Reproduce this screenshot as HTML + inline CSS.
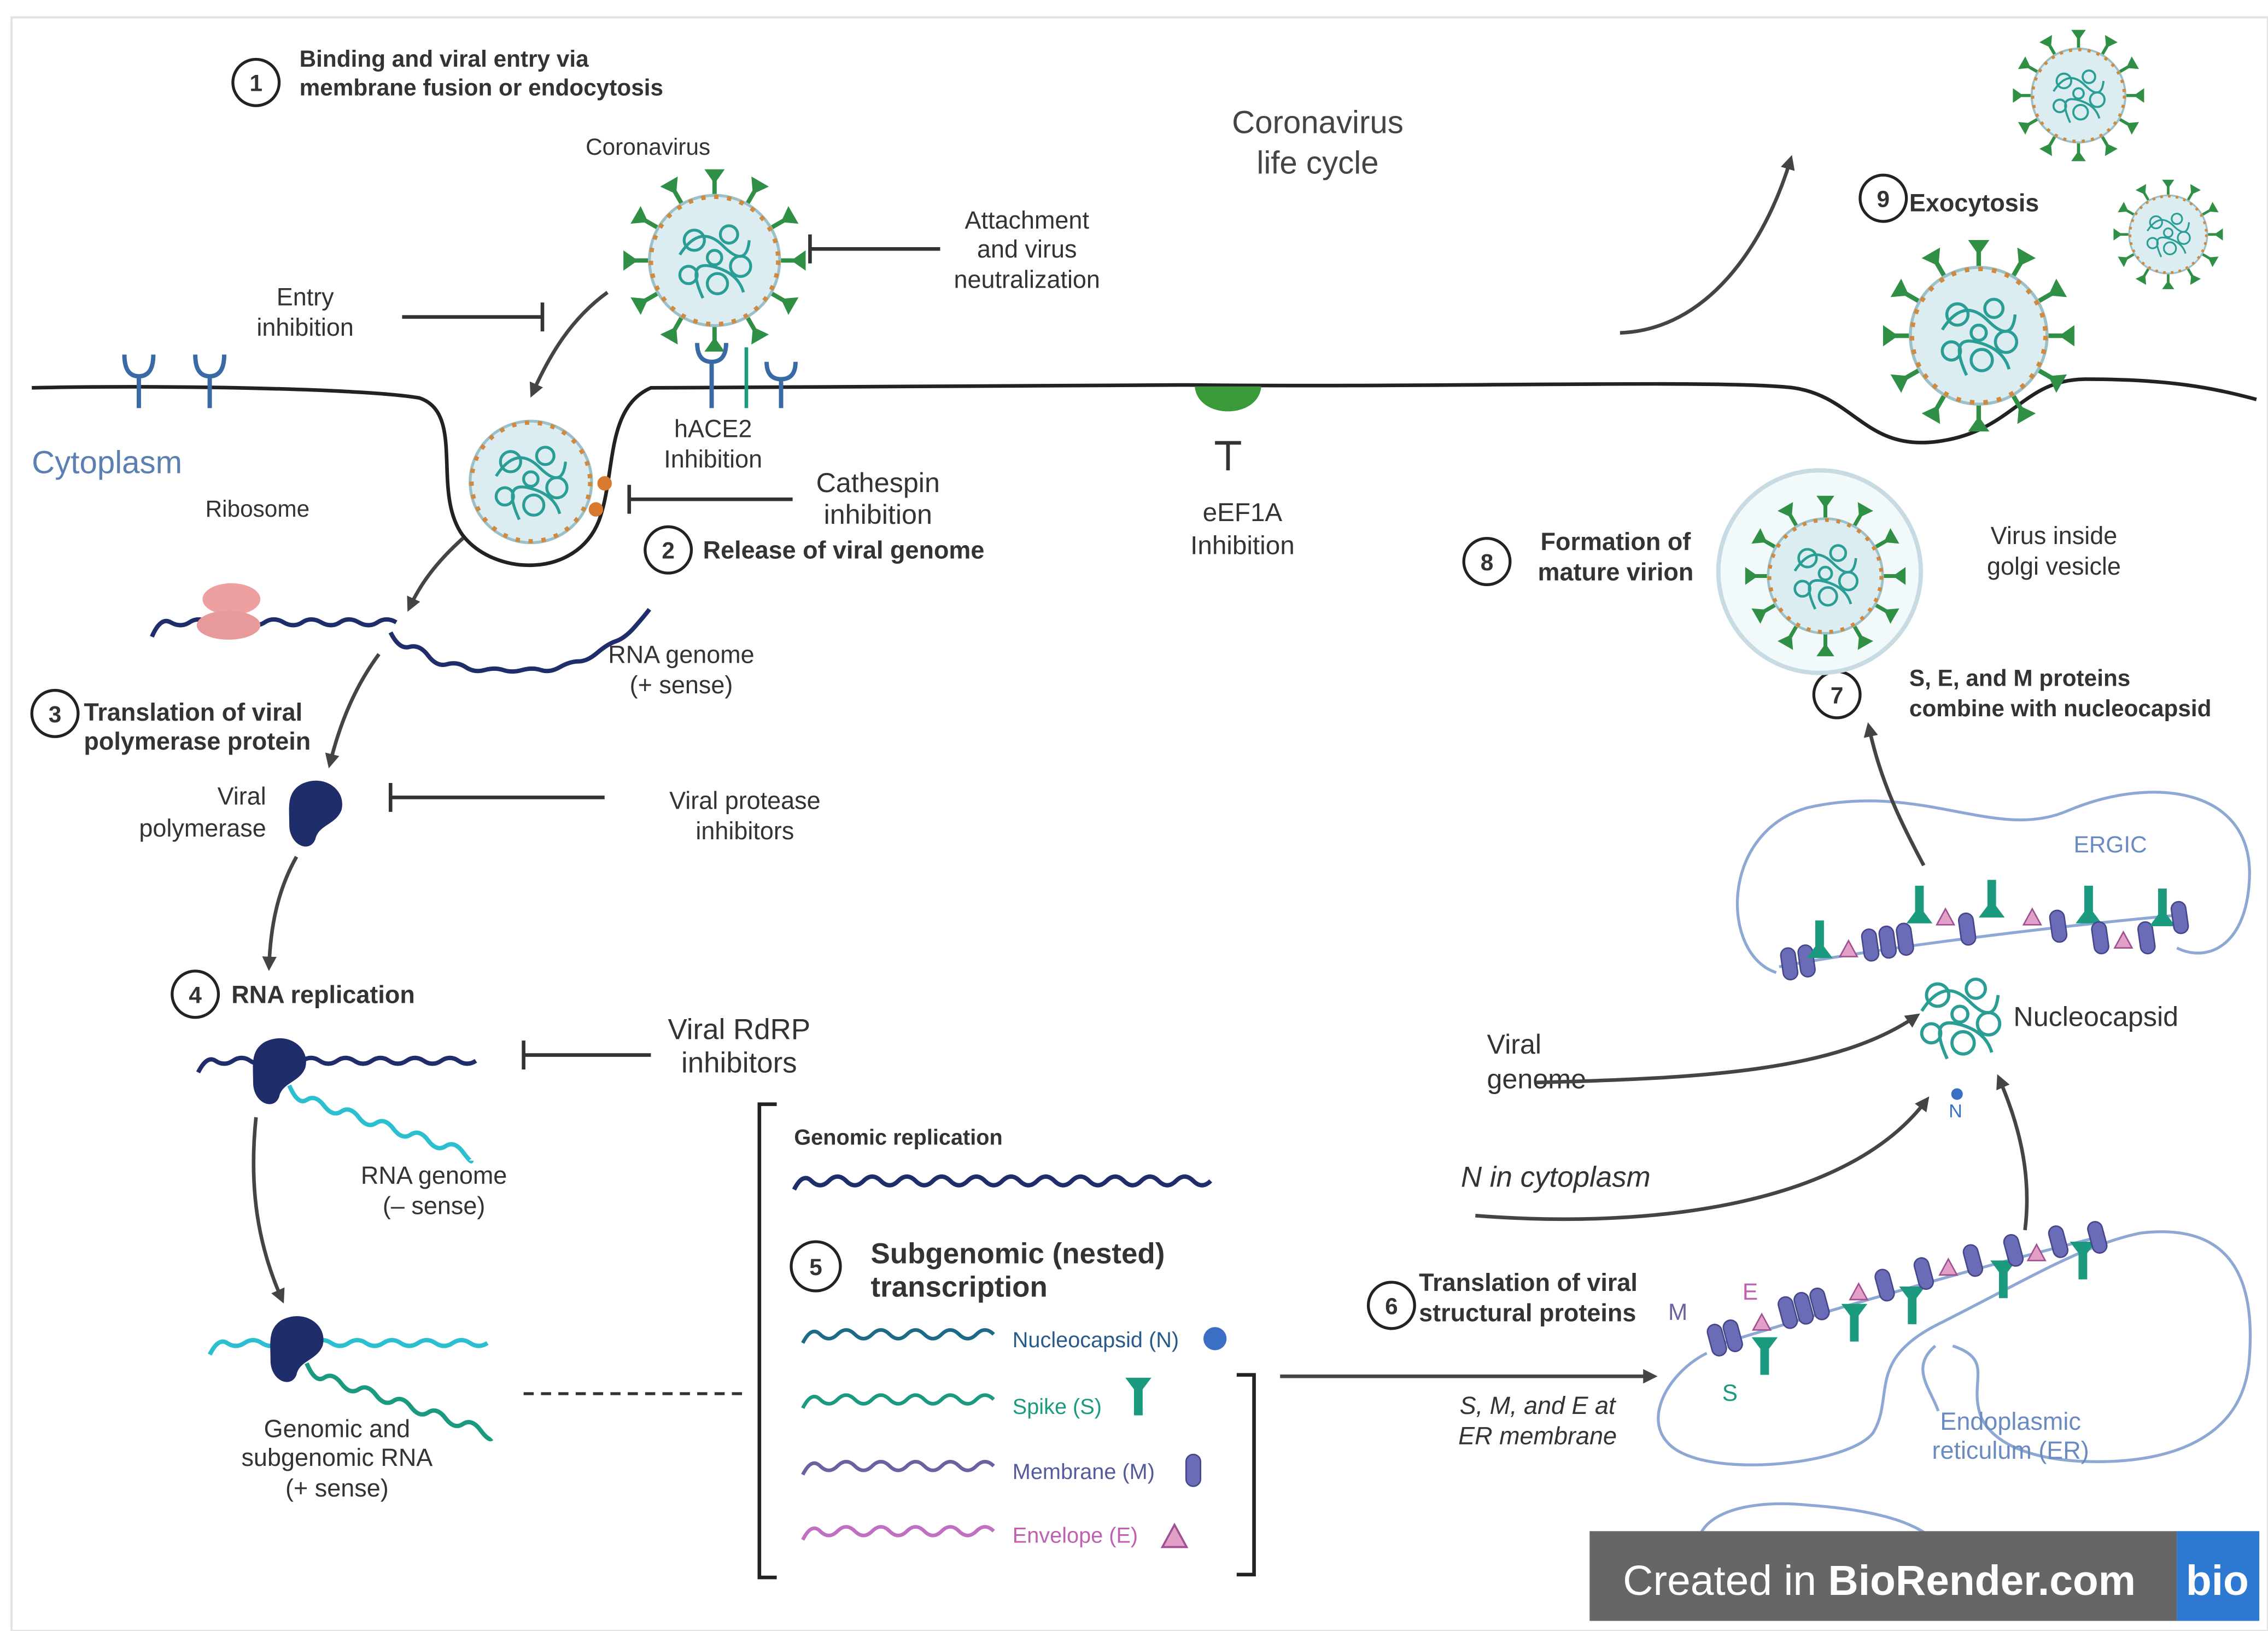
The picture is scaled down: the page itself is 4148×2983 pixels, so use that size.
<!DOCTYPE html>
<html><head><meta charset="utf-8"><style>
html,body{margin:0;padding:0;background:#fff;}
svg{display:block;}
text{font-family:"Liberation Sans",sans-serif;}
text:not([fill]){fill:#333;}
.b{font-weight:bold;fill:#222;}
</style></head><body>
<svg width="4148" height="2983" viewBox="0 0 1568 1127" preserveAspectRatio="none" xmlns="http://www.w3.org/2000/svg">
<defs>
<marker id="ar" markerWidth="10" markerHeight="10" refX="7" refY="5" orient="auto" markerUnits="userSpaceOnUse"><path d="M0,0 L10,5 L0,10 Z" fill="#444"/></marker>
<g id="sp"><path d="M0,-44 L0,-56" stroke="#2f8f45" stroke-width="3"/><path d="M-7,-63 L7,-63 L0,-53 Z" fill="#2f8f45"/></g>
<g id="scr" fill="none" stroke="#2a9d95" stroke-width="2">
<circle cx="-14" cy="-14" r="7"/><circle cx="10" cy="-18" r="6"/><circle cx="18" cy="4" r="7"/><circle cx="-18" cy="10" r="6"/><circle cx="2" cy="16" r="7"/><circle cx="0" cy="-2" r="5"/>
<path d="M-24,-4 Q-10,-26 6,-10 T24,-14 M-8,26 Q-20,0 -2,4 T20,22"/>
</g>
<g id="vir">
<use href="#sp"/><use href="#sp" transform="rotate(30)"/><use href="#sp" transform="rotate(60)"/><use href="#sp" transform="rotate(90)"/><use href="#sp" transform="rotate(120)"/><use href="#sp" transform="rotate(150)"/><use href="#sp" transform="rotate(180)"/><use href="#sp" transform="rotate(210)"/><use href="#sp" transform="rotate(240)"/><use href="#sp" transform="rotate(270)"/><use href="#sp" transform="rotate(300)"/><use href="#sp" transform="rotate(330)"/>
<circle r="45" fill="#dcedf2" stroke="#9cc0c8" stroke-width="2"/>
<circle r="44" fill="none" stroke="#d08a40" stroke-width="3" stroke-dasharray="3 6"/>
<use href="#scr"/>
</g>
<g id="cap"><rect x="-5" y="-11" width="10" height="22" rx="5" fill="#6a6cb8" stroke="#45478a"/></g>
<g id="spk"><path d="M-9,-14 L9,-14 L3,-6 L3,12 L-3,12 L-3,-6 Z" fill="#1b9a80"/></g>
<g id="tri"><path d="M-6,5 L6,5 L0,-6 Z" fill="#e2a0c8" stroke="#a05090"/></g>
<g id="pol"><path d="M-10,-18 C6,-26 22,-14 18,0 C14,10 2,10 0,20 C-4,30 -18,24 -18,10 C-18,-2 -20,-12 -10,-18 Z" fill="#1f2d6a"/></g>
</defs>

<rect x="8" y="12" width="1560" height="1115" fill="#fff" stroke="#e2e2e2" stroke-width="1.5"/>

<path d="M22,268 C100,266 250,268 290,275 C322,286 298,340 320,370 C342,398 398,400 414,360 C426,328 418,282 450,268 L820,266 C1000,268 1190,262 1240,268 C1282,274 1290,312 1340,305 C1392,298 1398,262 1442,262 C1500,262 1530,268 1560,276" fill="none" stroke="#222" stroke-width="2.5"/>

<circle cx="177" cy="57" r="16" fill="#fff" stroke="#222" stroke-width="2"/><text x="177" y="63" font-size="16" text-anchor="middle" class="b">1</text>
<text x="207" y="46" font-size="16" class="b">Binding and viral entry via</text>
<text x="207" y="66" font-size="16" class="b">membrane fusion or endocytosis</text>
<text x="448" y="107" font-size="16" text-anchor="middle">Coronavirus</text>
<text x="911" y="92" font-size="22" text-anchor="middle" fill="#444">Coronavirus</text>
<text x="911" y="120" font-size="22" text-anchor="middle" fill="#444">life cycle</text>
<use href="#vir" transform="translate(494,180)"/>
<text x="710" y="158" font-size="17" text-anchor="middle">Attachment</text>
<text x="710" y="178" font-size="17" text-anchor="middle">and virus</text>
<text x="710" y="199" font-size="17" text-anchor="middle">neutralization</text>
<path d="M650,172 L560,172 M560,162 L560,182" stroke="#333" stroke-width="2.5"/>
<text x="211" y="211" font-size="17" text-anchor="middle">Entry</text>
<text x="211" y="232" font-size="17" text-anchor="middle">inhibition</text>
<path d="M278,219 L375,219 M375,209 L375,229" stroke="#333" stroke-width="2.5"/>
<path d="M420,202 C395,220 380,245 368,272" fill="none" stroke="#444" stroke-width="2.5" marker-end="url(#ar)"/>

<g stroke="#3a6aa6" stroke-width="3" fill="none">
<path d="M96,282 L96,260 M86,245 Q86,260 96,260 Q106,260 106,245"/>
<path d="M145,282 L145,260 M135,245 Q135,260 145,260 Q155,260 155,245"/>
<path d="M492,282 L492,250 M482,237 Q482,250 492,250 Q502,250 502,237"/>
<path d="M540,282 L540,262 M530,250 Q530,262 540,262 Q550,262 550,250"/>
</g>
<path d="M516,282 L516,240" stroke="#1b9a80" stroke-width="2.5"/>
<text x="493" y="302" font-size="17" text-anchor="middle">hACE2</text>
<text x="493" y="323" font-size="17" text-anchor="middle">Inhibition</text>
<text x="22" y="327" font-size="22" fill="#5a7fb0">Cytoplasm</text>

<circle cx="367" cy="333" r="42" fill="#dcedf2" stroke="#9cc0c8" stroke-width="2"/>
<circle cx="367" cy="333" r="41" fill="none" stroke="#d08a40" stroke-width="3" stroke-dasharray="3 6"/>
<use href="#scr" transform="translate(367,333)"/>
<circle cx="418" cy="334" r="5" fill="#d87a30"/><circle cx="412" cy="352" r="5" fill="#d87a30"/>
<text x="607" y="340" font-size="19" text-anchor="middle">Cathespin</text>
<text x="607" y="362" font-size="19" text-anchor="middle">inhibition</text>
<path d="M548,345 L435,345 M435,335 L435,355" stroke="#333" stroke-width="2.5"/>
<circle cx="462" cy="380" r="16" fill="#fff" stroke="#222" stroke-width="2"/><text x="462" y="386" font-size="16" text-anchor="middle" class="b">2</text>
<text x="486" y="386" font-size="17" class="b">Release of viral genome</text>

<path d="M826,267 C828,290 870,290 872,267 Z" fill="#3a9a3a"/>
<path d="M849,325 L849,306 M840,306 L858,306" stroke="#333" stroke-width="2.5"/>
<text x="859" y="360" font-size="18" text-anchor="middle">eEF1A</text>
<text x="859" y="383" font-size="18" text-anchor="middle">Inhibition</text>

<text x="178" y="357" font-size="16" text-anchor="middle">Ribosome</text>
<path d="M320,372 C300,390 290,405 283,420" fill="none" stroke="#444" stroke-width="2.5" marker-end="url(#ar)"/>
<path d="M105,440 q6,-14 13,-10 t13,0 t13,0 t13,0 t13,0 t13,0 t13,0 t13,0 t13,0 t13,0 t13,0 t13,0 t13,0" fill="none" stroke="#1f2d6a" stroke-width="3"/>
<path d="M270,437 q6,12 13,10 t13,6 t13,6 t13,2 t13,2 t13,0 t13,0 t13,0 t13,-2 t13,-4 t13,-6 t13,-8 t13,-10 t10,-12" fill="none" stroke="#1f2d6a" stroke-width="3"/>
<ellipse cx="160" cy="414" rx="20" ry="11" fill="#eea0a0"/><ellipse cx="158" cy="432" rx="22" ry="10" fill="#e89a9a"/>
<text x="471" y="458" font-size="17" text-anchor="middle">RNA genome</text>
<text x="471" y="479" font-size="17" text-anchor="middle">(+ sense)</text>

<circle cx="38" cy="493" r="16" fill="#fff" stroke="#222" stroke-width="2"/><text x="38" y="499" font-size="16" text-anchor="middle" class="b">3</text>
<text x="58" y="498" font-size="17" class="b">Translation of viral</text>
<text x="58" y="518" font-size="17" class="b">polymerase protein</text>
<path d="M262,452 C245,475 235,500 228,528" fill="none" stroke="#444" stroke-width="2.5" marker-end="url(#ar)"/>
<use href="#pol" transform="translate(218,560)"/>
<text x="184" y="556" font-size="17" text-anchor="end">Viral</text>
<text x="184" y="578" font-size="17" text-anchor="end">polymerase</text>
<path d="M418,551 L270,551 M270,541 L270,561" stroke="#333" stroke-width="2.5"/>
<text x="515" y="559" font-size="17" text-anchor="middle">Viral protease</text>
<text x="515" y="580" font-size="17" text-anchor="middle">inhibitors</text>
<path d="M205,592 C192,615 187,640 186,668" fill="none" stroke="#444" stroke-width="2.5" marker-end="url(#ar)"/>

<circle cx="135" cy="687" r="16" fill="#fff" stroke="#222" stroke-width="2"/><text x="135" y="693" font-size="16" text-anchor="middle" class="b">4</text>
<text x="160" y="693" font-size="17" class="b">RNA replication</text>
<path d="M137,741 q6,-12 12,-8 t12,0 t12,0 t12,0 t12,0 t12,0 t12,0 t12,0 t12,0 t12,0 t12,0 t12,0 t12,0 t12,0 t12,0 t12,0" fill="none" stroke="#1f2d6a" stroke-width="3"/>
<path d="M200,750 q6,14 12,10 t12,4 t12,4 t12,4 t12,4 t12,4 t12,4 t12,4 t12,4 t12,4 t6,6" fill="none" stroke="#2cbfd0" stroke-width="3"/>
<use href="#pol" transform="translate(193,738)"/>
<path d="M450,729 L362,729 M362,719 L362,739" stroke="#333" stroke-width="2.5"/>
<text x="511" y="718" font-size="20" text-anchor="middle">Viral RdRP</text>
<text x="511" y="741" font-size="20" text-anchor="middle">inhibitors</text>
<text x="300" y="818" font-size="17" text-anchor="middle">RNA genome</text>
<text x="300" y="839" font-size="17" text-anchor="middle">(– sense)</text>
<path d="M177,772 C172,820 178,860 195,898" fill="none" stroke="#444" stroke-width="2.5" marker-end="url(#ar)"/>
<path d="M145,936 q6,-12 12,-8 t12,0 t12,0 t12,0 t12,0 t12,0 t12,0 t12,0 t12,0 t12,0 t12,0 t12,0 t12,0 t12,0 t12,0 t12,0" fill="none" stroke="#2cbfd0" stroke-width="3"/>
<path d="M212,942 q6,14 12,10 t12,4 t12,4 t12,4 t12,4 t12,4 t12,4 t12,4 t12,4 t12,4 t8,6" fill="none" stroke="#1b9a80" stroke-width="3"/>
<use href="#pol" transform="translate(205,930)"/>
<text x="233" y="993" font-size="17" text-anchor="middle">Genomic and</text>
<text x="233" y="1013" font-size="17" text-anchor="middle">subgenomic RNA</text>
<text x="233" y="1034" font-size="17" text-anchor="middle">(+ sense)</text>
<path d="M362,963 L518,963" stroke="#333" stroke-width="2" stroke-dasharray="7 5"/>

<path d="M537,763 L525,763 L525,1090 L537,1090" fill="none" stroke="#222" stroke-width="2.5"/>
<path d="M855,950 L867,950 L867,1088 L855,1088" fill="none" stroke="#222" stroke-width="2.5"/>
<text x="549" y="791" font-size="15" class="b">Genomic replication</text>
<path d="M549,822 q6,-12 12,-6 t12,0 t12,0 t12,0 t12,0 t12,0 t12,0 t12,0 t12,0 t12,0 t12,0 t12,0 t12,0 t12,0 t12,0 t12,0 t12,0 t12,0 t12,0 t12,0 t12,0 t12,0 t12,0 t12,0" fill="none" stroke="#1f2d6a" stroke-width="3"/>
<circle cx="564" cy="875" r="17" fill="#fff" stroke="#222" stroke-width="2"/><text x="564" y="881" font-size="16" text-anchor="middle" class="b">5</text>
<text x="602" y="873" font-size="20" class="b">Subgenomic (nested)</text>
<text x="602" y="896" font-size="20" class="b">transcription</text>
<path d="M555,928 q6,-12 12,-6 t12,0 t12,0 t12,0 t12,0 t12,0 t12,0 t12,0 t12,0 t12,0 t12,0" fill="none" stroke="#1d6a86" stroke-width="2.5"/>
<text x="700" y="931" font-size="15" fill="#2a5a8a">Nucleocapsid (N)</text>
<circle cx="840" cy="925" r="8" fill="#3b6fc4"/>
<path d="M555,973 q6,-12 12,-6 t12,0 t12,0 t12,0 t12,0 t12,0 t12,0 t12,0 t12,0 t12,0 t12,0" fill="none" stroke="#1b9a80" stroke-width="2.5"/>
<text x="700" y="977" font-size="15" fill="#1b9a80">Spike (S)</text>
<use href="#spk" transform="translate(787,966)"/>
<path d="M555,1019 q6,-12 12,-6 t12,0 t12,0 t12,0 t12,0 t12,0 t12,0 t12,0 t12,0 t12,0 t12,0" fill="none" stroke="#6a62a0" stroke-width="2.5"/>
<text x="700" y="1022" font-size="15" fill="#555a9a">Membrane (M)</text>
<use href="#cap" transform="translate(825,1016)"/>
<path d="M555,1064 q6,-12 12,-6 t12,0 t12,0 t12,0 t12,0 t12,0 t12,0 t12,0 t12,0 t12,0 t12,0" fill="none" stroke="#c070c0" stroke-width="2.5"/>
<text x="700" y="1066" font-size="15" fill="#c060b0">Envelope (E)</text>
<use href="#tri" transform="translate(812,1062) scale(1.4)"/>
<path d="M885,951 L1143,951" stroke="#444" stroke-width="2.5" marker-end="url(#ar)"/>

<circle cx="962" cy="902" r="16" fill="#fff" stroke="#222" stroke-width="2"/><text x="962" y="908" font-size="16" text-anchor="middle" class="b">6</text>
<text x="981" y="892" font-size="17" class="b">Translation of viral</text>
<text x="981" y="913" font-size="17" class="b">structural proteins</text>
<text x="1063" y="977" font-size="17" text-anchor="middle" font-style="italic">S, M, and E at</text>
<text x="1063" y="998" font-size="17" text-anchor="middle" font-style="italic">ER membrane</text>
<g fill="none" stroke="#8ea8d4" stroke-width="2">
<path d="M1180,935 C1150,950 1130,990 1165,1005 C1200,1020 1280,1010 1295,990 C1310,965 1290,940 1340,915 C1400,885 1440,860 1480,852 C1540,845 1560,880 1555,940 C1550,1000 1490,1010 1450,1010 C1410,1010 1380,1000 1370,980 C1360,955 1380,940 1350,930"/>
<path d="M1185,930 C1250,910 1350,880 1450,855"/>
<path d="M1178,1085 C1160,1050 1200,1035 1250,1040 C1320,1045 1330,1060 1340,1065"/>
<path d="M1338,930 C1320,945 1335,960 1340,975"/>
</g>
<g>
<use href="#cap" transform="translate(1187,926) rotate(-15)"/><use href="#cap" transform="translate(1198,923) rotate(-15)"/>
<use href="#spk" transform="translate(1220,938)"/>
<use href="#tri" transform="translate(1218,914)"/>
<use href="#cap" transform="translate(1236,907) rotate(-15)"/><use href="#cap" transform="translate(1247,904) rotate(-15)"/><use href="#cap" transform="translate(1258,901) rotate(-15)"/>
<use href="#spk" transform="translate(1282,915)"/>
<use href="#tri" transform="translate(1285,893)"/>
<use href="#cap" transform="translate(1303,888) rotate(-15)"/>
<use href="#spk" transform="translate(1322,903)"/>
<use href="#cap" transform="translate(1330,880) rotate(-15)"/>
<use href="#tri" transform="translate(1347,876)"/>
<use href="#cap" transform="translate(1364,871) rotate(-15)"/>
<use href="#spk" transform="translate(1385,885)"/>
<use href="#cap" transform="translate(1392,864) rotate(-15)"/>
<use href="#tri" transform="translate(1408,866)"/>
<use href="#cap" transform="translate(1423,858) rotate(-15)"/>
<use href="#spk" transform="translate(1440,872)"/>
<use href="#cap" transform="translate(1450,855) rotate(-15)"/>
</g>
<text x="1160" y="912" font-size="16" fill="#6a62a0" text-anchor="middle">M</text>
<text x="1210" y="898" font-size="16" fill="#c060b0" text-anchor="middle">E</text>
<text x="1196" y="968" font-size="16" fill="#1b9a80" text-anchor="middle">S</text>
<text x="1390" y="988" font-size="17" fill="#6a8ac0" text-anchor="middle">Endoplasmic</text>
<text x="1390" y="1008" font-size="17" fill="#6a8ac0" text-anchor="middle">reticulum (ER)</text>

<text x="1010" y="820" font-size="20" font-style="italic">N in cytoplasm</text>
<path d="M1020,840 C1150,850 1280,830 1332,760" fill="none" stroke="#444" stroke-width="2.5" marker-end="url(#ar)"/>
<text x="1028" y="728" font-size="19">Viral</text>
<text x="1028" y="752" font-size="19">genome</text>
<path d="M1062,748 C1180,745 1270,740 1325,702" fill="none" stroke="#444" stroke-width="2.5" marker-end="url(#ar)"/>
<path d="M1400,850 C1405,810 1395,775 1382,745" fill="none" stroke="#444" stroke-width="2.5" marker-end="url(#ar)"/>
<use href="#scr" transform="translate(1355,703) scale(1.1)"/>
<text x="1392" y="709" font-size="19">Nucleocapsid</text>
<circle cx="1353" cy="756" r="4" fill="#3b6fc4"/>
<text x="1352" y="772" font-size="13" fill="#3b6fc4" text-anchor="middle">N</text>

<path d="M1228,672 C1190,660 1188,575 1250,558 C1330,540 1380,582 1430,560 C1490,535 1560,545 1555,610 C1552,655 1525,665 1505,655" fill="none" stroke="#8ea8d4" stroke-width="2"/>
<path d="M1230,668 C1300,655 1420,640 1510,632" fill="none" stroke="#8ea8d4" stroke-width="2"/>
<g>
<use href="#cap" transform="translate(1237,666) rotate(-8)"/><use href="#cap" transform="translate(1249,664) rotate(-8)"/>
<use href="#spk" transform="translate(1258,648) rotate(180)"/>
<use href="#tri" transform="translate(1278,656)"/>
<use href="#cap" transform="translate(1293,653) rotate(-8)"/><use href="#cap" transform="translate(1305,651) rotate(-8)"/><use href="#cap" transform="translate(1317,649) rotate(-8)"/>
<use href="#spk" transform="translate(1327,624) rotate(180)"/>
<use href="#tri" transform="translate(1345,634)"/>
<use href="#cap" transform="translate(1360,642) rotate(-8)"/>
<use href="#spk" transform="translate(1377,620) rotate(180)"/>
<use href="#tri" transform="translate(1405,634)"/>
<use href="#cap" transform="translate(1423,640) rotate(-8)"/>
<use href="#spk" transform="translate(1444,624) rotate(180)"/>
<use href="#cap" transform="translate(1452,648) rotate(-8)"/><use href="#tri" transform="translate(1468,650)"/>
<use href="#cap" transform="translate(1484,648) rotate(-8)"/>
<use href="#spk" transform="translate(1495,626) rotate(180)"/>
<use href="#cap" transform="translate(1507,634) rotate(-8)"/>
</g>
<text x="1459" y="589" font-size="16" fill="#6a8ac0" text-anchor="middle">ERGIC</text>
<path d="M1330,598 C1315,570 1300,540 1292,502" fill="none" stroke="#444" stroke-width="2.5" marker-end="url(#ar)"/>

<circle cx="1270" cy="480" r="16" fill="#fff" stroke="#222" stroke-width="2"/><text x="1270" y="486" font-size="16" text-anchor="middle" class="b">7</text>
<text x="1320" y="474" font-size="16" class="b">S, E, and M proteins</text>
<text x="1320" y="495" font-size="16" class="b">combine with nucleocapsid</text>
<circle cx="1258" cy="395" r="70" fill="#f2f9fb" stroke="#c8dbe2" stroke-width="3"/>
<use href="#vir" transform="translate(1262,398) scale(0.88)"/>
<text x="1420" y="376" font-size="17" text-anchor="middle">Virus inside</text>
<text x="1420" y="397" font-size="17" text-anchor="middle">golgi vesicle</text>
<circle cx="1028" cy="388" r="16" fill="#fff" stroke="#222" stroke-width="2"/><text x="1028" y="394" font-size="16" text-anchor="middle" class="b">8</text>
<text x="1117" y="380" font-size="17" text-anchor="middle" class="b">Formation of</text>
<text x="1117" y="401" font-size="17" text-anchor="middle" class="b">mature virion</text>

<path d="M1120,230 C1180,228 1220,170 1238,110" fill="none" stroke="#444" stroke-width="2.5" marker-end="url(#ar)"/>
<use href="#vir" transform="translate(1368,232) scale(1.05)"/>
<use href="#vir" transform="translate(1437,66) scale(0.72)"/>
<use href="#vir" transform="translate(1499,162) scale(0.6)"/>
<circle cx="1302" cy="137" r="16" fill="#fff" stroke="#222" stroke-width="2"/><text x="1302" y="143" font-size="16" text-anchor="middle" class="b">9</text>
<text x="1320" y="146" font-size="17" class="b">Exocytosis</text>

<rect x="1099" y="1058" width="406" height="62" fill="#666"/>
<rect x="1505" y="1058" width="57" height="62" fill="#2d79d2"/>
<text x="1122" y="1102" font-size="29" fill="#fff">Created in <tspan font-weight="bold" fill="#fff">BioRender.com</tspan></text>
<text x="1533" y="1102" font-size="29" font-weight="bold" text-anchor="middle" fill="#fff">bio</text>
</svg>
</body></html>
